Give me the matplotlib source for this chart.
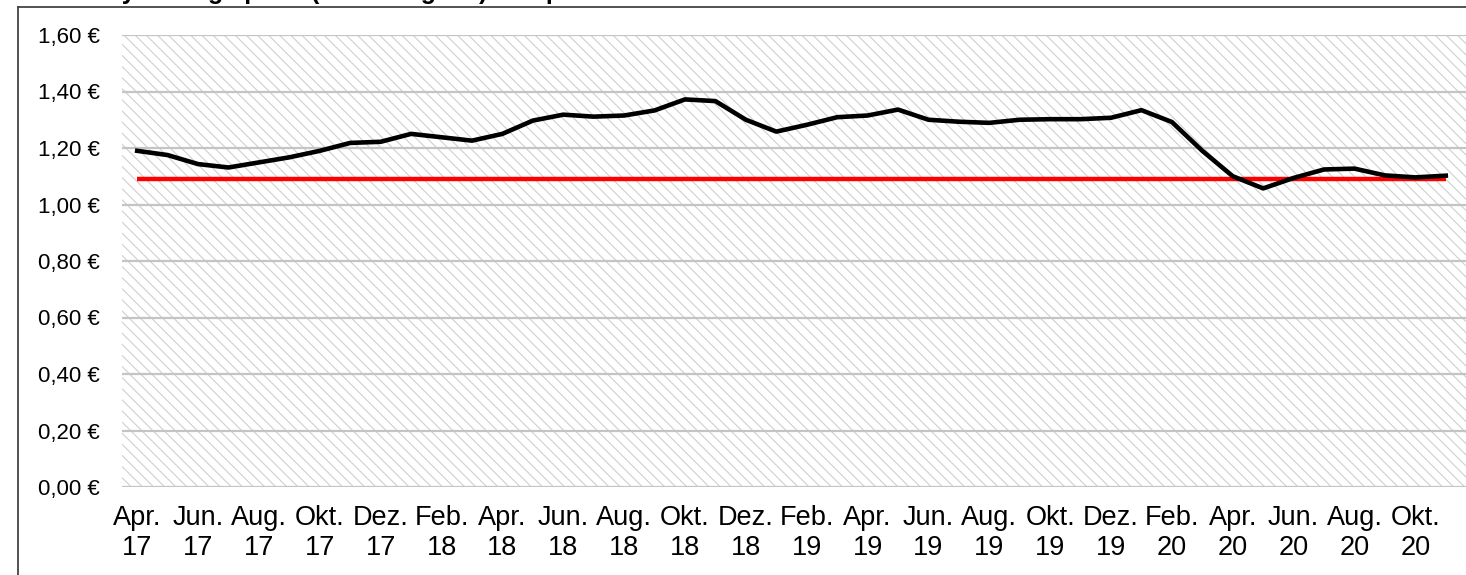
import matplotlib.pyplot as plt
from matplotlib.lines import Line2D
from matplotlib.patches import Rectangle

plt.rcParams['font.family'] = ['Liberation Sans', 'DejaVu Sans']
plt.rcParams['hatch.linewidth'] = 0.8
plt.rcParams['hatch.color'] = '#cfcfcf'

# monthly prices Apr. 17 .. Nov. 20
months = ['Apr.', 'Mai', 'Jun.', 'Jul.', 'Aug.', 'Sep.', 'Okt.', 'Nov.', 'Dez.', 'Jan.', 'Feb.', 'Mär.']
prices = [1.19, 1.175, 1.143, 1.131, 1.149, 1.167, 1.19, 1.218, 1.222, 1.25,
          1.238, 1.226, 1.25, 1.297, 1.318, 1.311, 1.315, 1.333, 1.372, 1.366,
          1.30, 1.258, 1.282, 1.309, 1.315, 1.336, 1.30, 1.293, 1.289, 1.30,
          1.302, 1.302, 1.307, 1.334, 1.292, 1.19, 1.10, 1.057, 1.094, 1.124,
          1.127, 1.103, 1.096, 1.102]
limit = 1.092

labels = []
for i in range(len(prices)):
    m = months[i % 12]
    y = 17 + (i + 3) // 12
    labels.append(f'{m}\n{y}')

W, H = 1466, 575
fig = plt.figure(figsize=(W / 100, H / 100), dpi=100)
ax = fig.add_axes([122 / W, (H - 487) / H, (W - 122) / W, 452 / H])

x = list(range(len(prices)))
ax.set_xlim(-0.5, len(prices) - 0.5 + 5 / 30.44)
ax.set_ylim(0, 1.6)

# hatched plot area
ax.add_patch(Rectangle((0, 0), 1, 1, transform=ax.transAxes, facecolor='white',
                       hatch='\\\\\\', edgecolor='#cfcfcf', linewidth=0, zorder=0))

yt = [0, 0.2, 0.4, 0.6, 0.8, 1.0, 1.2, 1.4, 1.6]
for v in yt:
    ax.axhline(v, color='#c4c4c4', linewidth=1.6, zorder=1)

ax.plot([x[0], x[-1]], [limit, limit], color='#ff0000', linewidth=3.2, zorder=2,
        solid_capstyle='butt')
ax.plot(x, prices, color='black', linewidth=3.3, zorder=3)

ax.set_yticks(yt)
ax.set_yticklabels([f'{v:.2f} €'.replace('.', ',') for v in yt])
ax.set_xticks(x[::2])
ax.set_xticklabels(labels[::2], linespacing=1.22)
ax.tick_params(axis='y', length=0, pad=16, labelsize=16)
ax.tick_params(axis='x', length=0, pad=13, labelsize=19.5)
for s in ax.spines.values():
    s.set_visible(False)

# chart border (cropped)
fig.add_artist(Line2D([18 / W, 18 / W], [0, (H - 7) / H], color='#444444', linewidth=1.3,
                      transform=fig.transFigure))
fig.add_artist(Line2D([18 / W, 1], [(H - 7) / H, (H - 7) / H], color='#444444', linewidth=1.3,
                      transform=fig.transFigure))

# title, cut off at top edge
fig.text(40 / W, 1.002, 'Monthly average price (excluding tax) compared', fontsize=18,
         fontweight='bold', va='baseline', ha='left')

fig.savefig('out.png', dpi=100)
